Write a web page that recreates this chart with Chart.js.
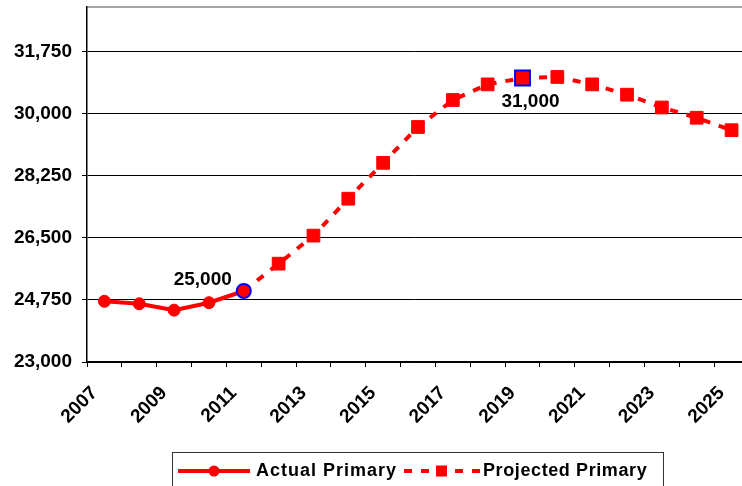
<!DOCTYPE html>
<html>
<head>
<meta charset="utf-8">
<script src="https://cdn.jsdelivr.net/npm/chart.js@4.4.1/dist/chart.umd.min.js"></script>
<style>
  html, body { margin: 0; padding: 0; background: #fff; }
  #wrap { width: 742px; height: 486px; }
</style>
</head>
<body>
<div id="wrap"><canvas id="c" width="742" height="486"></canvas></div>
<script>
// values
const years = [2007, 2008, 2009, 2010, 2011, 2012, 2013, 2014, 2015, 2016,
               2017, 2018, 2019, 2020, 2021, 2022, 2023, 2024, 2025];
const actualPrimary = [24710, 24640, 24460, 24670, 25000, null, null, null, null, null,
                       null, null, null, null, null, null, null, null, null];
const projectedPrimary = [null, null, null, null, 25000, 25770, 26560, 27600, 28610, 29620,
                          30380, 30820, 31000, 31030, 30820, 30530, 30170, 29880, 29530];
const yTicks = [23000, 24750, 26500, 28250, 30000, 31750, 33000];
const actualMark = 2011;     // "25,000"
const projectedMark = 2019;  // "31,000"

// the plot is cut off on the right a little past 2025
const xMin = 2006.5, xMax = 2025.3;

const FONT = '"Liberation Sans", Arial, sans-serif';
const RED = '#ff0000';
const BLUE = '#0000ff';

function fmt(v) { return v.toLocaleString('en-US'); }
function points(arr) {
  return years.map((yr, i) => ({ x: yr, y: arr[i] })).filter(p => p.y !== null);
}

const callouts = {
  id: 'callouts',
  afterDatasetsDraw(chart) {
    const ctx = chart.ctx;
    ctx.save();
    ctx.font = 'bold 19px ' + FONT;
    ctx.fillStyle = '#000';
    ctx.textBaseline = 'middle';
    let meta = chart.getDatasetMeta(0);
    let p = meta.data[meta._parsed.findIndex(d => d.x === actualMark)];
    ctx.textAlign = 'right';
    ctx.fillText(fmt(actualPrimary[years.indexOf(actualMark)]), p.x - 12, p.y - 11);
    meta = chart.getDatasetMeta(1);
    p = meta.data[meta._parsed.findIndex(d => d.x === projectedMark)];
    ctx.textAlign = 'center';
    ctx.fillText(fmt(projectedPrimary[years.indexOf(projectedMark)]), p.x + 8, p.y + 24);
    ctx.restore();
  }
};

const boxLegend = {
  id: 'boxLegend',
  afterDraw(chart) {
    const ctx = chart.ctx;
    ctx.save();
    ctx.strokeStyle = '#333';
    ctx.lineWidth = 1;
    ctx.strokeRect(172.5, 452.5, 491, 45);
    const y = 471;
    // actual sample
    ctx.strokeStyle = RED;
    ctx.lineWidth = 4;
    ctx.beginPath(); ctx.moveTo(178, y); ctx.lineTo(250, y); ctx.stroke();
    ctx.fillStyle = RED;
    ctx.beginPath(); ctx.arc(214, y, 5.5, 0, Math.PI * 2); ctx.fill();
    // projected sample
    ctx.setLineDash([8, 9]);
    ctx.beginPath(); ctx.moveTo(404, y); ctx.lineTo(481, y); ctx.stroke();
    ctx.setLineDash([]);
    ctx.fillRect(436, y - 5.5, 11, 11);
    ctx.fillStyle = '#000';
    ctx.font = 'bold 18px ' + FONT;
    ctx.textBaseline = 'middle';
    ctx.textAlign = 'left';
    ctx.letterSpacing = '1px';
    ctx.fillText('Actual Primary', 256, y);
    ctx.letterSpacing = '0.6px';
    ctx.fillText('Projected Primary', 483, y);
    ctx.restore();
  }
};

new Chart(document.getElementById('c'), {
  type: 'line',
  data: {
    datasets: [
      {
        label: 'Actual Primary',
        data: points(actualPrimary),
        borderColor: RED,
        backgroundColor: RED,
        borderWidth: 4,
        pointStyle: 'circle',
        pointRadius: (c) => c.raw && c.raw.x === actualMark ? 7 : 6,
        pointBorderWidth: (c) => c.raw && c.raw.x === actualMark ? 2 : 1,
        pointBorderColor: (c) => c.raw && c.raw.x === actualMark ? BLUE : RED,
        pointBackgroundColor: RED,
        tension: 0
      },
      {
        label: 'Projected Primary',
        data: points(projectedPrimary),
        borderColor: RED,
        backgroundColor: RED,
        borderWidth: 4,
        borderDash: [8, 9],
        pointStyle: 'rect',
        pointRadius: (c) => !c.raw ? 9 : c.raw.x === actualMark ? 0 : (c.raw.x === projectedMark ? 10.5 : 9),
        pointBorderWidth: (c) => c.raw && c.raw.x === projectedMark ? 2 : 1,
        pointBorderColor: (c) => c.raw && c.raw.x === projectedMark ? BLUE : RED,
        pointBackgroundColor: RED,
        tension: 0
      }
    ]
  },
  options: {
    responsive: false,
    animation: false,
    layout: { autoPadding: false, padding: { top: 7, right: 0, bottom: 0, left: 0 } },
    plugins: {
      legend: { display: false },
      tooltip: { enabled: false }
    },
    scales: {
      x: {
        type: 'linear',
        min: xMin,
        max: xMax,
        // tick marks sit between the years, labels are moved onto the year
        afterBuildTicks: (s) => { s.ticks = years.map(yr => ({ value: yr - 0.5 })); },
        grid: {
          drawOnChartArea: false,
          drawTicks: true,
          tickLength: 5,
          color: '#000'
        },
        border: { color: '#000', width: 1.5 },
        ticks: {
          autoSkip: false,
          maxRotation: 45,
          minRotation: 45,
          padding: 15,
          labelOffset: 7.4,
          color: '#000',
          font: { family: FONT, size: 19, weight: 'bold' },
          callback: (v, i) => i % 2 === 0 ? String(v + 0.5) : ''
        },
        afterFit: (s) => { s.height = 124; s.paddingLeft = 0; s.paddingRight = 0; }
      },
      y: {
        min: 23000,
        max: 33000,
        afterBuildTicks: (s) => { s.ticks = yTicks.map(v => ({ value: v })); },
        grid: {
          color: (c) => c.tick && c.tick.value === 33000 ? '#a6a6a6' : '#000',
          tickColor: (c) => c.tick && c.tick.value === 33000 ? 'rgba(0,0,0,0)' : '#000',
          lineWidth: (c) => c.tick && c.tick.value === 33000 ? 2 : 1,
          tickLength: 5
        },
        border: { color: '#000', width: 1.5 },
        ticks: {
          padding: 10,
          color: '#000',
          font: { family: FONT, size: 19, weight: 'bold' },
          callback: (v) => v === 33000 ? '' : fmt(v)
        },
        afterFit: (s) => { s.width = 87; s.paddingTop = 0; s.paddingBottom = 0; }
      }
    }
  },
  plugins: [callouts, boxLegend]
});
</script>
</body>
</html>
